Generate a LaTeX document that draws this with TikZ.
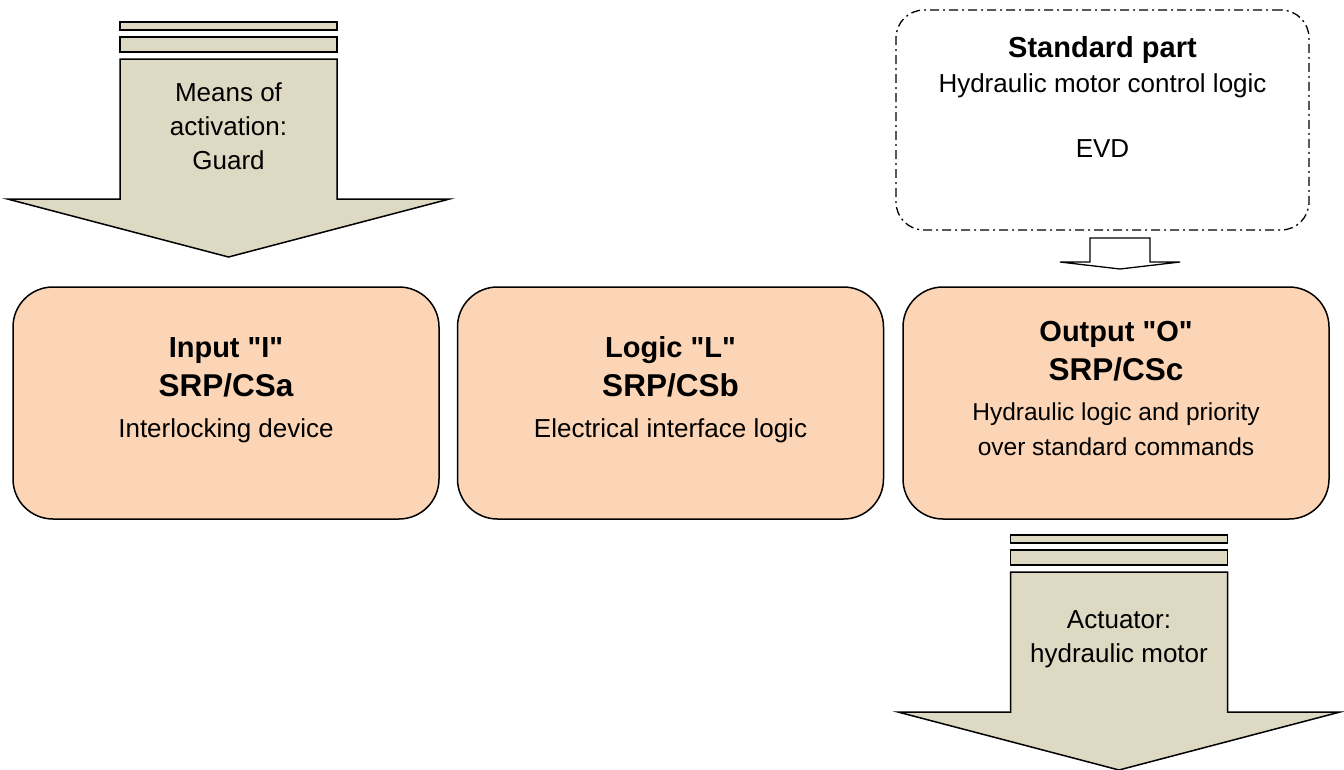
\documentclass[tikz,border=0pt]{standalone}
\usepackage{fontspec}
\setmainfont{Liberation Sans}
\definecolor{peach}{HTML}{FBD5B5}
\definecolor{khaki}{HTML}{DDD9C3}
\begin{document}
\begin{tikzpicture}[x=1pt,y=-1pt,
  stage/.style={draw=black, line width=1.5pt, fill=peach, rectangle,
    rounded corners=40pt, minimum width=426pt, minimum height=232pt, inner sep=0pt},
  stdbox/.style={draw=black, line width=1.3pt, rectangle, rounded corners=28pt,
    dash pattern=on 9pt off 4pt on 2pt off 4pt,
    minimum width=413pt, minimum height=220pt, inner sep=0pt},
  txt/.style={anchor=base, inner sep=0pt, font=\fontsize{26}{30}\selectfont},
  smalltxt/.style={anchor=base, inner sep=0pt, font=\fontsize{24.5}{29}\selectfont},
  ttl/.style={anchor=base, inner sep=0pt, font=\fontsize{29}{33}\selectfont\bfseries},
  srp/.style={anchor=base, inner sep=0pt, font=\fontsize{31.5}{36}\selectfont\bfseries},
  barfill/.style={draw=black, line width=1.5pt, fill=khaki, line join=miter},
  blockarrow/.pic={
    % two thin plates above the arrow body
    \path[barfill] (-108.5,0) rectangle (108.5,8);
    \path[barfill] (-108.5,15) rectangle (108.5,30);
    % body and head of the arrow
    \path[barfill] (-108.5,37) -- (108.5,37) -- (108.5,177) -- (221,177)
      -- (0,235) -- (-221,177) -- (-108.5,177) -- cycle;
  }]
\useasboundingbox (0,0) rectangle (1344,769);

% input arrow: means of activation
\pic at (228.5,22) {blockarrow};
\node[txt] (act1) at (228.5,101) {Means of};
\node[txt] (act2) at (228.5,135) {activation:};
\node[txt] (act3) at (228.5,169) {Guard};

% standard part
\node[stdbox] (std) at (1102.5,120) {};
\node[ttl] (std1) at (1102.5,57) {Standard part};
\node[txt] (std2) at (1102.5,92) {Hydraulic motor control logic};
\node[txt] (std3) at (1102.5,157) {EVD};

% small open arrow from the standard part to the output
\draw[line width=1.3pt, line join=miter] (1090,238) -- (1150,238) -- (1150,262) -- (1180,262)
  -- (1120,269) -- (1060,262) -- (1090,262) -- cycle;

% the three safety-related parts
\node[stage] (inp) at (226,403) {};
\node[ttl] (inp1) at (226,357) {Input \textquotedbl I\textquotedbl};
\node[srp] (inp2) at (226,396) {SRP/CSa};
\node[txt] (inp3) at (226,437) {Interlocking device};

\node[stage] (log) at (670.5,403) {};
\node[ttl] (log1) at (670.5,357) {Logic \textquotedbl L\textquotedbl};
\node[srp] (log2) at (670.5,396) {SRP/CSb};
\node[txt] (log3) at (670.5,437) {Electrical interface logic};

\node[stage] (out) at (1116,403) {};
\node[ttl] (out1) at (1116,341) {Output \textquotedbl O\textquotedbl};
\node[srp] (out2) at (1116,380) {SRP/CSc};
\node[smalltxt] (out3) at (1116,420) {Hydraulic logic and priority};
\node[smalltxt] (out4) at (1116,455) {over standard commands};

% output arrow: actuator
\pic at (1119,535) {blockarrow};
\node[txt] (acu1) at (1119,628) {Actuator:};
\node[txt] (acu2) at (1119,662) {hydraulic motor};
\end{tikzpicture}
\end{document}
